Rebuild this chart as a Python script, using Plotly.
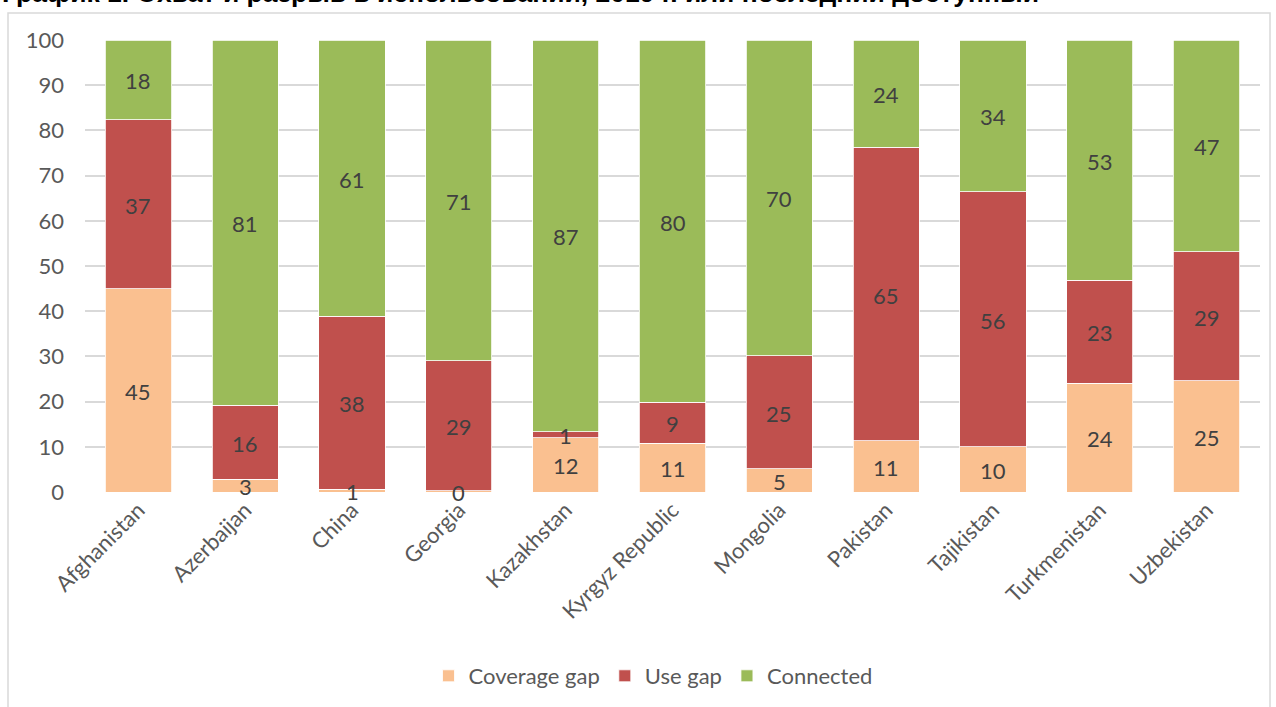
import plotly.graph_objects as go

countries = ["Afghanistan", "Azerbaijan", "China", "Georgia", "Kazakhstan",
             "Kyrgyz Republic", "Mongolia", "Pakistan", "Tajikistan",
             "Turkmenistan", "Uzbekistan"]
coverage_gap = [45.0, 2.8, 0.6, 0.3, 12.0, 10.8, 5.1, 11.3, 10.0, 24.1, 24.6]
use_gap = [37.4, 16.4, 38.3, 28.7, 1.3, 9.1, 25.0, 65.0, 56.4, 22.8, 28.6]
connected = [17.6, 80.8, 61.1, 71.0, 86.7, 80.1, 69.9, 23.7, 33.6, 53.1, 46.8]

series = [
    ("Coverage gap", coverage_gap, "#FAC090"),
    ("Use gap", use_gap, "#C0504D"),
    ("Connected", connected, "#9BBB59"),
]

FONT = "Lato"
SIZE = 22
fig = go.Figure()

base = [0.0] * len(countries)
labels = []
for name, vals, color in series:
    fig.add_trace(go.Bar(
        x=countries, y=vals, name=name,
        marker=dict(color=color, line=dict(color="white", width=0.8)),
        hoverinfo="skip",
    ))
    # value labels sit at the middle of each stacked segment
    for i, v in enumerate(vals):
        labels.append(dict(
            x=countries[i], y=base[i] + v / 2, xref="x", yref="y",
            text=f"{v:.0f}", showarrow=False, yshift=-1,
            font=dict(family=FONT, size=SIZE, color="#404040")))
        base[i] += v

L, R, T, B = 85, 1260, 40, 492
W, H = R - L, B - T

def px(x):
    return (x - L) / W

def py(y):
    return (B - y) / H

title = dict(
    text="<b>График 1. Охват и разрыв в использовании, 2019 г. или последний доступный</b>",
    xref="paper", yref="paper", x=px(0), y=py(10), xanchor="left",
    yanchor="bottom", showarrow=False,
    font=dict(family="Liberation Sans", size=26.5, color="black"))

fig.update_layout(
    barmode="stack", bargap=0.38,
    width=1276, height=707,
    margin=dict(l=L, r=1276 - R, t=T, b=707 - B, autoexpand=False),
    paper_bgcolor="white", plot_bgcolor="white",
    font=dict(family=FONT, size=SIZE, color="#595959"),
    xaxis=dict(tickangle=-45, showgrid=False, showline=False, ticks="",
               range=[-0.5, len(countries) - 0.5],
               tickfont=dict(size=SIZE, color="#595959")),
    yaxis=dict(range=[0, 100], dtick=10, showgrid=True, gridcolor="#d9d9d9",
               gridwidth=1.5, zeroline=False, showline=False, ticks="",
               ticklabelstandoff=20,
               tickfont=dict(size=SIZE, color="#595959")),
    legend=dict(orientation="h", x=px(653), xanchor="center", y=py(676),
                yanchor="middle", font=dict(size=SIZE, color="#595959"),
                itemwidth=30, traceorder="normal"),
    shapes=[dict(type="rect", xref="paper", yref="paper",
                 x0=px(8), x1=px(1270), y0=py(730), y1=py(13),
                 line=dict(color="#d9d9d9", width=1.5), layer="below")],
    annotations=labels + [title],
    showlegend=True,
)

fig.write_html("out.html")
